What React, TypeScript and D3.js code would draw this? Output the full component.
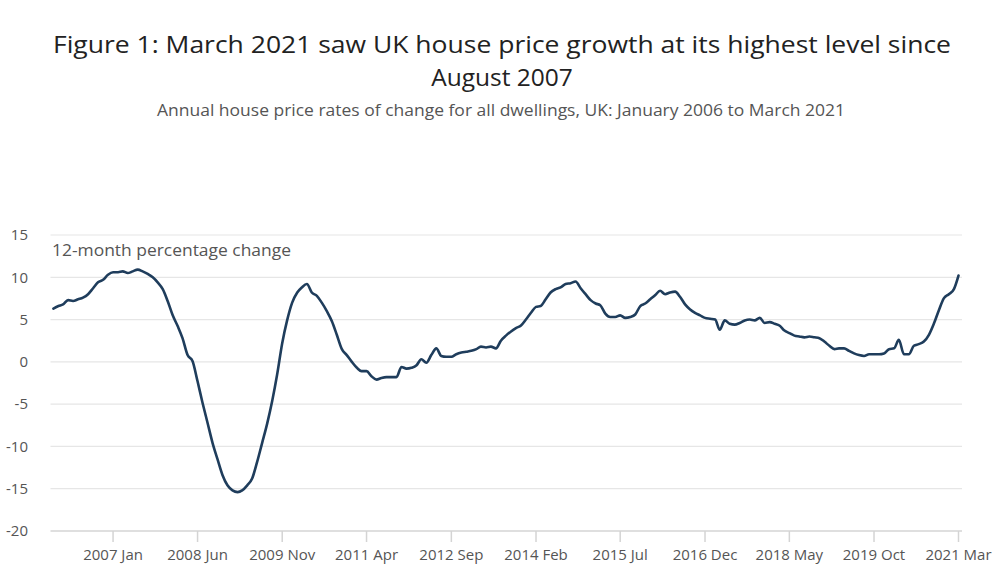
import React, { useEffect } from "react";
import * as d3 from "d3";

const TITLE_LINE1 = "Figure 1: March 2021 saw UK house price growth at its highest level since";
const TITLE_LINE2 = "August 2007";
const SUBTITLE = "Annual house price rates of change for all dwellings, UK: January 2006 to March 2021";
const Y_LABEL = "12-month percentage change";

const START_YEAR = 2006;
const START_MONTH = 0; // January

// Monthly annual % change, Jan 2006 .. Mar 2021
const values2006_2009: number[] = [
  6.3, 6.6, 6.8, 7.3, 7.2, 7.4, 7.6, 8.0, 8.7, 9.4, 9.7, 10.3,
  10.6, 10.6, 10.7, 10.5, 10.7, 10.9, 10.7, 10.4, 10.0, 9.4, 8.6, 7.2,
  5.5, 4.2, 2.8, 0.8, 0.1, -2.3, -4.8, -7.2, -9.6, -11.5, -13.4, -14.6,
  -15.2, -15.4, -15.2, -14.6, -13.8, -11.8, -9.6, -7.3, -4.6, -1.5, 2.2, 4.9,
];
const values2010_2013: number[] = [
  7.0, 8.2, 8.8, 9.2, 8.2, 7.8, 7.0, 6.0, 4.8, 3.2, 1.5, 0.8,
  0.0, -0.7, -1.1, -1.1, -1.7, -2.1, -1.9, -1.8, -1.8, -1.8, -0.6, -0.8,
  -0.7, -0.4, 0.3, -0.1, 0.8, 1.6, 0.7, 0.6, 0.6, 0.9, 1.1, 1.2,
  1.3, 1.5, 1.8, 1.7, 1.8, 1.6, 2.5, 3.1, 3.6, 4.0, 4.3, 5.0,
];
const values2014_2017: number[] = [
  5.8, 6.5, 6.6, 7.4, 8.2, 8.6, 8.8, 9.2, 9.3, 9.5, 8.7, 8.0,
  7.3, 6.9, 6.7, 5.7, 5.3, 5.3, 5.5, 5.2, 5.3, 5.6, 6.6, 6.9,
  7.4, 7.9, 8.4, 8.0, 8.2, 8.3, 7.7, 6.8, 6.2, 5.8, 5.5, 5.2,
  5.1, 5.0, 3.8, 4.9, 4.5, 4.4, 4.6, 4.9, 5.0, 4.9, 5.2, 4.6,
];
const values2018_2021: number[] = [
  4.7, 4.5, 4.3, 3.7, 3.4, 3.1, 3.0, 2.9, 3.0, 2.9, 2.8, 2.4,
  1.9, 1.5, 1.6, 1.6, 1.3, 1.0, 0.8, 0.7, 0.9, 0.9, 0.9, 1.0,
  1.5, 1.6, 2.6, 0.9, 0.9, 1.9, 2.1, 2.4, 3.2, 4.5, 6.1, 7.5,
  8.0, 8.6, 10.2,
];

const Y_TICKS: number[] = [15, 10, 5, 0, -5, -10, -15, -20];
const X_TICK_LABELS: string[] = [
  "2007 Jan", "2008 Jun", "2009 Nov", "2011 Apr", "2012 Sep", "2014 Feb",
  "2015 Jul", "2016 Dec", "2018 May", "2019 Oct", "2021 Mar",
];
const MONTHS = ["Jan", "Feb", "Mar", "Apr", "May", "Jun", "Jul", "Aug", "Sep", "Oct", "Nov", "Dec"];

const allValues = [...values2006_2009, ...values2010_2013, ...values2014_2017, ...values2018_2021];
const data = allValues.map((v, i) => ({
  date: new Date(START_YEAR, START_MONTH + i, 1),
  value: v,
}));

const parseTick = (s: string) => {
  const [y, m] = s.split(" ");
  return new Date(+y, MONTHS.indexOf(m), 1);
};

const W = 1000;
const H = 584;
const FONT = "'Open Sans', 'Noto Sans', sans-serif";

export default function App() {
  useEffect(() => {
    document.body.style.margin = "0";
  }, []);

  const x = d3
    .scaleTime()
    .domain([data[0].date, data[data.length - 1].date])
    .range([53.4, 958.5]);
  const y = d3.scaleLinear().domain([-20, 15]).range([531, 235]);

  const line = d3
    .line<{ date: Date; value: number }>()
    .x((d) => x(d.date))
    .y((d) => y(d.value))
    .curve(d3.curveMonotoneX);

  const gridX0 = 50.5;
  const gridX1 = 962;

  return (
    <svg width={W} height={H} style={{ display: "block", background: "#fff" }} fontFamily={FONT}>
      <text x={502} y={53} textAnchor="middle" fontSize={24.5} fill="#222" textLength={898} lengthAdjust="spacingAndGlyphs">
        {TITLE_LINE1}
      </text>
      <text x={502} y={86} textAnchor="middle" fontSize={24.5} fill="#222">
        {TITLE_LINE2}
      </text>
      <text x={501} y={116} textAnchor="middle" fontSize={16} fill="#555" textLength={688} lengthAdjust="spacingAndGlyphs">
        {SUBTITLE}
      </text>

      {Y_TICKS.map((t) => (
        <g key={t}>
          <line
            x1={gridX0}
            x2={gridX1}
            y1={y(t)}
            y2={y(t)}
            stroke={t === -20 ? "#d4d4d4" : "#e6e6e6"}
            strokeWidth={t === -20 ? 1.5 : 1.2}
          />
          <text x={28} y={y(t)} dy="0.35em" textAnchor="end" fontSize={15} fill="#555">
            {t}
          </text>
        </g>
      ))}

      {X_TICK_LABELS.map((lab) => {
        const d = parseTick(lab);
        const px = x(d);
        return (
          <g key={lab}>
            <line x1={px} x2={px} y1={531} y2={542} stroke="#d4d4d4" strokeWidth={1.5} />
            <text x={px} y={560} textAnchor="middle" fontSize={15} fill="#555">
              {lab}
            </text>
          </g>
        );
      })}

      <text x={52} y={256} fontSize={16.5} fill="#555" textLength={239} lengthAdjust="spacingAndGlyphs">
        {Y_LABEL}
      </text>

      <path d={line(data) || ""} fill="none" stroke="#1f3d5c" strokeWidth={2.6} strokeLinejoin="round" strokeLinecap="round" />
    </svg>
  );
}
